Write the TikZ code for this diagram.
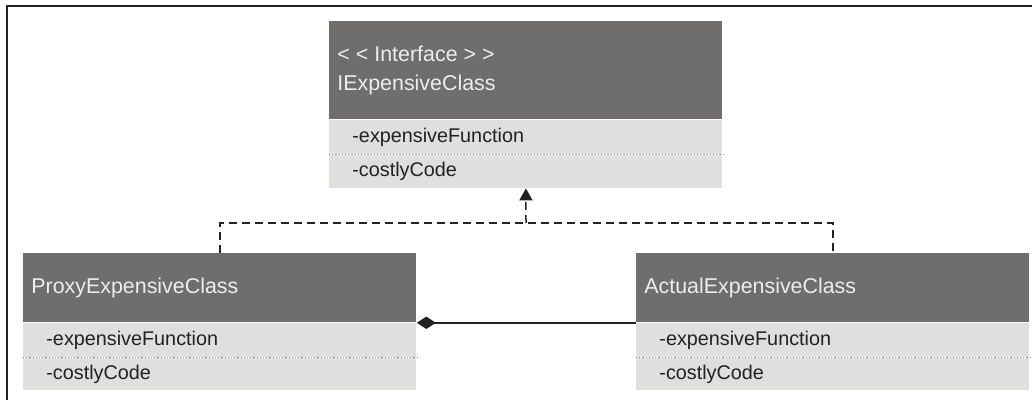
\documentclass[tikz,border=0pt]{standalone}
\usepackage{fontspec}
\setmainfont{Liberation Sans}
\usetikzlibrary{positioning,arrows.meta}
\definecolor{hdrgry}{RGB}{111,110,108}
\definecolor{rowgry}{RGB}{223,223,222}
\definecolor{sepgry}{RGB}{135,135,135}
\definecolor{lnblk}{RGB}{34,34,34}

\begin{document}
\begin{tikzpicture}[x=0.5pt, y=-0.5pt,
  hdr/.style={anchor=north west, fill=hdrgry, text=white!93!black, inner xsep=4pt, inner ysep=0pt,
    text width=188.5pt, align=left, font=\fontsize{10.7}{14.5}\selectfont},
  row/.style={fill=rowgry, text=lnblk, inner xsep=11.5pt, inner ysep=0pt,
    text width=173.5pt, align=left, font=\fontsize{9.9}{11}\selectfont},
  sep/.style={sepgry, densely dotted, line width=.6pt},
  rel/.style={lnblk, line width=.75pt}]

\useasboundingbox (0,0) rectangle (1032,400);

%% frame -- only top and left edges are in view
\draw[lnblk, line width=1pt] (1032,6) -- (7,6) -- (7,400);

%% interface (top)
\node[hdr, minimum height=49pt] (ihdr) at (329,21) {<\kern3pt<\kern3pt Interface\kern3pt>\kern3pt>\\IExpensiveClass};
\node[row, minimum height=17pt, below=0pt of ihdr] (ifn) {-expensiveFunction};
\node[row, minimum height=16.5pt, below=0pt of ifn] (icode) {-costlyCode};
\draw[sep] (ifn.south west) -- (ifn.south east);

%% proxy class (left)
\node[hdr, minimum height=34.5pt] (phdr) at (23,253) {ProxyExpensiveClass};
\node[row, minimum height=17pt, below=0pt of phdr] (pfn) {-expensiveFunction};
\node[row, minimum height=16pt, below=0pt of pfn] (pcode) {-costlyCode};
\draw[sep] (pfn.south west) -- (pfn.south east);

%% actual class (right)
\node[hdr, minimum height=34.5pt] (ahdr) at (636,253) {ActualExpensiveClass};
\node[row, minimum height=17pt, below=0pt of ahdr] (afn) {-expensiveFunction};
\node[row, minimum height=16pt, below=0pt of afn] (acode) {-costlyCode};
\draw[sep] (afn.south west) -- (afn.south east);

%% realisation -- dashed, up to the interface
\coordinate (joint) at (526,223);
\draw[rel, dash pattern=on 4pt off 2.5pt] (phdr.north) |- (joint) -| (ahdr.north);
\draw[rel, dash pattern=on 4pt off 2.5pt, -{Triangle[width=6.5pt,length=6pt]}] (joint) -- (icode.south);

%% composition -- proxy holds the actual class
\draw[rel, {Diamond[width=6.2pt,length=9.5pt]}-] (phdr.south east) -- (ahdr.south west);

\end{tikzpicture}
\end{document}
